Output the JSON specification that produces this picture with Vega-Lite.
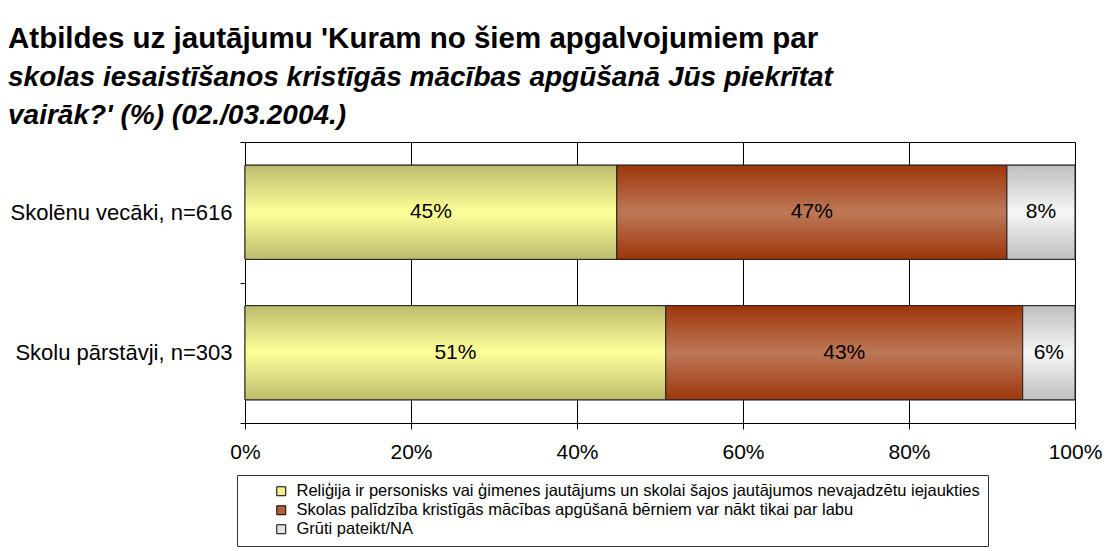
{
  "$schema": "https://vega.github.io/schema/vega-lite/v6.json",
  "autosize": {"type": "none"},
  "width": 830,
  "height": 281,
  "padding": {"left": 245, "top": 142, "right": 33, "bottom": 128},
  "background": "white",
  "title": {
    "text": "Atbildes uz jautājumu 'Kuram no šiem apgalvojumiem par",
    "subtitle": ["skolas iesaistīšanos kristīgās mācības apgūšanā Jūs piekrītat", "vairāk?' (%) (02./03.2004.)"],
    "anchor": "start",
    "frame": "bounds",
    "dx": -2,
    "font": "Liberation Sans",
    "fontSize": 29.5,
    "fontWeight": "bold",
    "color": "black",
    "subtitleFont": "Liberation Sans",
    "subtitleFontSize": 28,
    "subtitleFontWeight": "bold",
    "subtitleFontStyle": "italic",
    "subtitleColor": "black",
    "lineHeight": 38.5,
    "subtitleLineHeight": 38.5,
    "subtitlePadding": 9,
    "offset": 0
  },
  "data": {
    "values": [
      {"group": "Skolēnu vecāki, n=616", "cat": "Reliģija ir personisks vai ģimenes jautājums un skolai šajos jautājumos nevajadzētu iejaukties", "order": 1, "pct": 44.8, "label": "45%"},
      {"group": "Skolēnu vecāki, n=616", "cat": "Skolas palīdzība kristīgās mācības apgūšanā bērniem var nākt tikai par labu", "order": 2, "pct": 47.0, "label": "47%"},
      {"group": "Skolēnu vecāki, n=616", "cat": "Grūti pateikt/NA", "order": 3, "pct": 8.2, "label": "8%"},
      {"group": "Skolu pārstāvji, n=303", "cat": "Reliģija ir personisks vai ģimenes jautājums un skolai šajos jautājumos nevajadzētu iejaukties", "order": 1, "pct": 50.7, "label": "51%"},
      {"group": "Skolu pārstāvji, n=303", "cat": "Skolas palīdzība kristīgās mācības apgūšanā bērniem var nākt tikai par labu", "order": 2, "pct": 43.0, "label": "43%"},
      {"group": "Skolu pārstāvji, n=303", "cat": "Grūti pateikt/NA", "order": 3, "pct": 6.3, "label": "6%"}
    ]
  },
  "transform": [
    {"stack": "pct", "groupby": ["group"], "sort": [{"field": "order"}], "as": ["x0", "x1"]},
    {"calculate": "(datum.x0 + datum.x1) / 2", "as": "mid"}
  ],
  "encoding": {
    "y": {
      "field": "group",
      "type": "nominal",
      "sort": ["Skolēnu vecāki, n=616", "Skolu pārstāvji, n=303"],
      "scale": {"paddingInner": 0, "paddingOuter": 0},
      "axis": {
        "title": null,
        "labelFont": "Liberation Sans",
        "labelFontSize": 22,
        "labelColor": "black",
        "labelPadding": 8,
        "labelLimit": 400,
        "tickBand": "extent",
        "tickSize": 5,
        "tickColor": "black",
        "domainColor": "black",
        "grid": false
      }
    }
  },
  "layer": [
    {
      "mark": {"type": "bar", "stroke": "#222", "strokeWidth": 1, "height": {"band": 0.67}},
      "encoding": {
        "x": {
          "field": "x0",
          "type": "quantitative",
          "scale": {"domain": [0, 100], "nice": false},
          "axis": {
            "title": null,
            "values": [0, 20, 40, 60, 80, 100],
            "labelExpr": "datum.value + '%'",
            "labelFont": "Liberation Sans",
            "labelFontSize": 21,
            "labelColor": "black",
            "labelPadding": 12,
            "labelFlush": false,
            "labelOverlap": false,
            "tickSize": 6,
            "tickColor": "black",
            "domainColor": "black",
            "grid": true,
            "gridColor": "black",
            "gridOpacity": 1,
            "gridWidth": 1
          }
        },
        "x2": {"field": "x1"},
        "color": {
          "field": "cat",
          "type": "nominal",
          "sort": {"field": "order"},
          "scale": {
            "domain": ["Reliģija ir personisks vai ģimenes jautājums un skolai šajos jautājumos nevajadzētu iejaukties", "Skolas palīdzība kristīgās mācības apgūšanā bērniem var nākt tikai par labu", "Grūti pateikt/NA"],
            "range": ["#f2f18a", "#b3613d", "#e4e4e4"]
          },
          "legend": {
            "title": null,
            "orient": "none",
            "legendX": -8,
            "legendY": 333,
            "direction": "vertical",
            "symbolType": "square",
            "symbolSize": 80,
            "symbolStrokeColor": "black",
            "symbolStrokeWidth": 1,
            "symbolOffset": 28,
            "labelOffset": 7,
            "labelFont": "Liberation Sans",
            "labelFontSize": 16.5,
            "labelColor": "black",
            "labelLimit": 1000,
            "rowPadding": 2,
            "strokeColor": "#333",
            "padding": 8
          }
        }
      }
    },
    {
      "mark": {"type": "bar", "stroke": "#222", "strokeWidth": 1, "height": {"band": 0.67}},
      "encoding": {
        "x": {"field": "x0", "type": "quantitative"},
        "x2": {"field": "x1"},
        "fill": {
          "condition": [
            {"test": "datum.order === 1", "value": {"gradient": "linear", "x1": 0, "y1": 0, "x2": 0, "y2": 1, "stops": [{"offset": 0, "color": "#bdbc6e"}, {"offset": 0.5, "color": "#ffff99"}, {"offset": 1, "color": "#bdbc6e"}]}},
            {"test": "datum.order === 2", "value": {"gradient": "linear", "x1": 0, "y1": 0, "x2": 0, "y2": 1, "stops": [{"offset": 0, "color": "#9d360b"}, {"offset": 0.5, "color": "#bd7858"}, {"offset": 1, "color": "#9d360b"}]}}
          ],
          "value": {"gradient": "linear", "x1": 0, "y1": 0, "x2": 0, "y2": 1, "stops": [{"offset": 0, "color": "#bfbfbf"}, {"offset": 0.5, "color": "#f6f6f6"}, {"offset": 1, "color": "#bfbfbf"}]}
        }
      }
    },
    {
      "mark": {"type": "text", "font": "Liberation Sans", "fontSize": 21, "color": "black", "align": "center", "baseline": "middle"},
      "encoding": {
        "x": {"field": "mid", "type": "quantitative"},
        "text": {"field": "label"}
      }
    }
  ],
  "config": {
    "view": {"stroke": "black", "strokeWidth": 1},
    "axis": {"domainWidth": 1, "tickWidth": 1}
  }
}
